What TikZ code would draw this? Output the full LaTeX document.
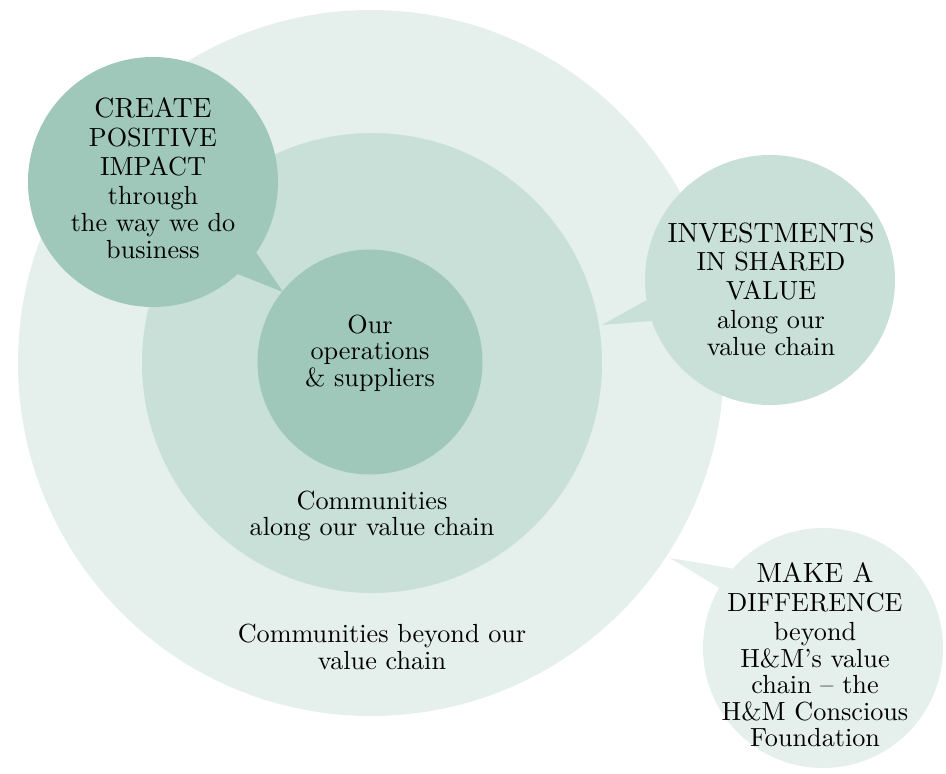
\documentclass[tikz,border=0pt]{standalone}
\usepackage{fontspec}
\setmainfont{lmroman10-regular.otf}
\usetikzlibrary{calc}
\definecolor{cdark}{HTML}{9FC8BA}
\definecolor{cmid}{HTML}{C8E0D7}
\definecolor{clight}{HTML}{E5F0EC}
\newcommand{\capsz}{\fontsize{27.8}{29}\selectfont}
\newcommand{\lowsz}{\fontsize{26.2}{26.6}\selectfont}
\begin{document}
\begin{tikzpicture}[x=1pt,y=-1pt,
  disc/.style={circle,inner sep=0pt,draw=none},
  lbl/.style={align=center,inner sep=0pt,font=\lowsz,text=black}]
\useasboundingbox (0,0) rectangle (946,774);
% concentric circles
\node[disc,fill=clight,minimum size=706pt] (outer) at (371,363) {};
\node[disc,fill=cmid,minimum size=460pt] (middle) at (372,363) {};
\node[disc,fill=cdark,minimum size=225pt] (inner) at (370,362) {};
% bubbles
\node[disc,fill=cdark,minimum size=250pt] (tl) at (153,182) {};
\node[disc,fill=cmid,minimum size=250pt] (rt) at (770,280) {};
\node[disc,fill=clight,minimum size=240pt] (br) at (823,648) {};
% pointer tips
\coordinate (tltip) at (283,292);
\coordinate (rttip) at (602,325);
\coordinate (brtip) at (670,558);
% pointers
\fill[cdark] ($(tl)+(33:118)$) -- (tltip) -- ($(tl)+(49:118)$) -- cycle;
\fill[cmid] ($(rt)+(160:118)$) -- (rttip) -- ($(rt)+(172:118)$) -- cycle;
\fill[clight] ($(br)+(210:112)$) -- (brtip) -- ($(br)+(224:112)$) -- cycle;
% texts
\node[lbl] (tltext) at (153,178) {\capsz CREATE\\[2.2pt]POSITIVE\\[2.2pt]IMPACT\\[3pt]\lowsz through\\the way we do\\business};
\node[lbl] (rttext) at (771,289) {\capsz INVESTMENTS\\[2.2pt]IN SHARED\\[2.2pt]VALUE\\[2.5pt]\lowsz along our\\value chain};
\node[lbl] (brtext) at (815,655) {\capsz MAKE A\\[2.2pt]DIFFERENCE\\[2.5pt]\lowsz beyond\\H\&M’s value\\chain -- the\\H\&M Conscious\\Foundation};
\node[lbl] (intext) at (370,353) {Our\\operations\\\& suppliers};
\node[lbl] (midtext) at (372,516) {Communities\\along our value chain};
\node[lbl] (outtext) at (382,647) {Communities beyond our\\value chain};
\end{tikzpicture}
\end{document}
